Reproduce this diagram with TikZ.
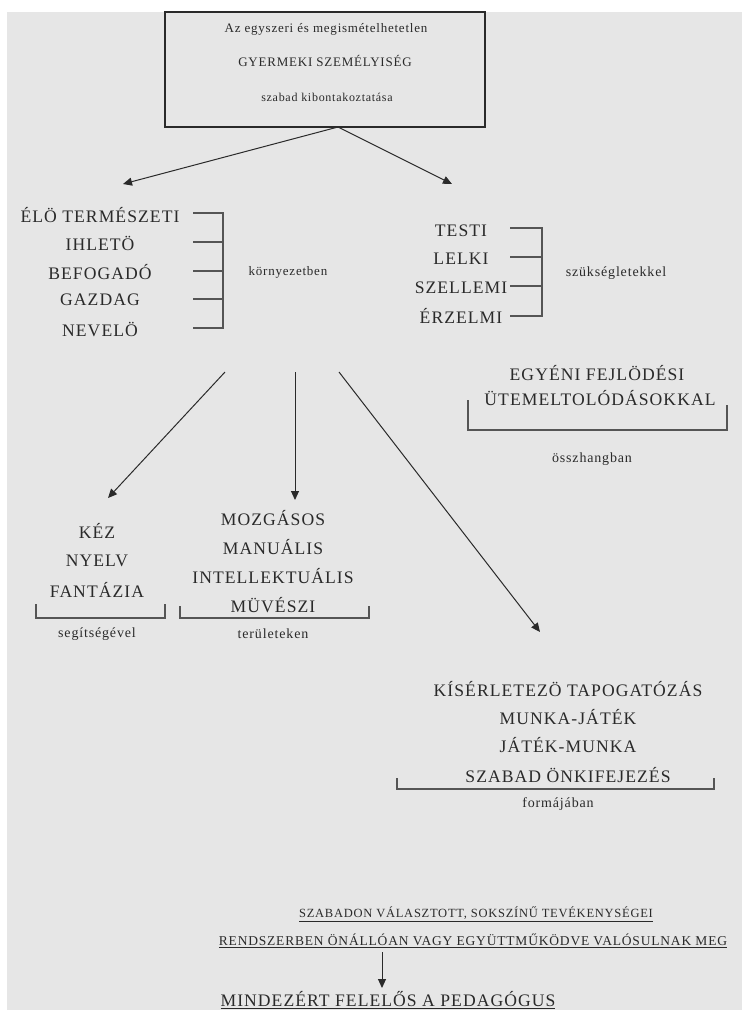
\documentclass[tikz,border=0pt]{standalone}
\usepackage{fontspec}
\setmainfont{Liberation Serif}[LetterSpace=6]
\usetikzlibrary{arrows.meta}
\definecolor{bg}{HTML}{E6E6E6}
\definecolor{ink}{HTML}{2A2A2A}
\definecolor{brk}{HTML}{555555}
\tikzset{
  lab/.style={inner sep=0pt, text=ink, font=\fontsize{17.6}{19}\selectfont},
  toptxt/.style={inner sep=0pt, text=ink, font=\fontsize{13}{15}\selectfont},
  bot/.style={inner sep=0pt, text=ink, font=\fontsize{13.5}{15}\selectfont},
  small/.style={inner sep=0pt, text=ink, font=\fontsize{14}{16}\selectfont},
  arr/.style={draw=ink, line width=1pt, -{Triangle[length=9pt,width=8pt]}},
  brace/.style={draw=brk, line width=1.3pt},
}
\begin{document}
\begin{tikzpicture}[x=1pt,y=-1pt]
\useasboundingbox (0,0) rectangle (748,1015);
\fill[white] (0,0) rectangle (748,1015);
\fill[bg] (7,12) rectangle (742,1010);
% top box
\node[draw=ink, line width=1.2pt, minimum width=320pt, minimum height=115pt, inner sep=0pt] (top) at (325,69.5) {};
\node[toptxt] (t1) at (326,29) {Az egyszeri és megismételhetetlen};
\node[toptxt] (t2) at (325,61) {GYERMEKI SZEMÉLYISÉG};
\node[toptxt, font=\fontsize{12}{14}\selectfont] (t3) at (327,97) {szabad kibontakoztatása};
\coordinate (o) at (338,127);
\coordinate (a1) at (123,184);
\coordinate (a2) at (452,184);
\draw[arr] (o) -- (a1);
\draw[arr] (o) -- (a2);
% left list
\node[lab] (l1) at (100,215) {ÉLÖ TERMÉSZETI};
\node[lab] (l2) at (100,243) {IHLETÖ};
\node[lab] (l3) at (100,272) {BEFOGADÓ};
\node[lab] (l4) at (100,300) {GAZDAG};
\node[lab] (l5) at (100,329) {NEVELÖ};
\coordinate (lb1) at (223,213);
\coordinate (lb5) at (223,328);
\draw[brace] (193,213) -- (lb1) -- (lb5) -- (193,328);
\draw[brace] (193,242) -- (223,242);
\draw[brace] (193,271) -- (223,271);
\draw[brace] (193,299) -- (223,299);
\node[small, font=\fontsize{13}{15}\selectfont] (kor) at (288,272) {környezetben};
% right list
\node[lab] (r1) at (461,231) {TESTI};
\node[lab] (r2) at (461,259) {LELKI};
\node[lab] (r3) at (461,288) {SZELLEMI};
\node[lab] (r4) at (461,316) {ÉRZELMI};
\draw[brace] (510,228) -- (542,228) -- (542,316) -- (510,316);
\draw[brace] (510,257) -- (542,257);
\draw[brace] (510,286) -- (542,286);
\node[small] (szuk) at (616,273) {szükségletekkel};
% egyeni
\node[lab] (e1) at (597,373) {EGYÉNI FEJLÖDÉSI};
\node[lab] (e2) at (600,398) {ÜTEMELTOLÓDÁSOKKAL};
\draw[brace] (468,400) -- (468,430) -- (727,430) -- (727,405);
\node[small] (ossz) at (592,459) {összhangban};
% three arrows
\coordinate (s1) at (225,372); \coordinate (e1a) at (108,498);
\coordinate (s2) at (295,372); \coordinate (e2a) at (295,500);
\coordinate (s3) at (339,372); \coordinate (e3a) at (540,632);
\draw[arr] (s1) -- (e1a);
\draw[arr] (s2) -- (e2a);
\draw[arr] (s3) -- (e3a);
% kez
\node[lab] (k1) at (97,531) {KÉZ};
\node[lab] (k2) at (97,561) {NYELV};
\node[lab] (k3) at (97,590) {FANTÁZIA};
\draw[brace] (36,604) -- (36,618) -- (165,618) -- (165,604);
\node[small] (seg) at (97,634) {segítségével};
% mozgasos
\node[lab] (m1) at (273,518) {MOZGÁSOS};
\node[lab] (m2) at (273,547) {MANUÁLIS};
\node[lab] (m3) at (273,576) {INTELLEKTUÁLIS};
\node[lab] (m4) at (273,605) {MÜVÉSZI};
\draw[brace] (180,606) -- (180,618) -- (369,618) -- (369,606);
\node[small] (ter) at (273,634) {területeken};
% kiserletezo
\node[lab] (x1) at (568,689) {KÍSÉRLETEZÖ TAPOGATÓZÁS};
\node[lab] (x2) at (568,717) {MUNKA-JÁTÉK};
\node[lab] (x3) at (568,745) {JÁTÉK-MUNKA};
\node[lab] (x4) at (568,775) {SZABAD ÖNKIFEJEZÉS};
\draw[brace] (397,778) -- (397,789) -- (714,789) -- (714,778);
\node[small] (form) at (558,804) {formájában};
% bottom
\node[bot, font=\fontsize{12.5}{14}\selectfont] (b1) at (476,914) {\underline{SZABADON VÁLASZTOTT, SOKSZÍNŰ TEVÉKENYSÉGEI}};
\node[bot] (b2) at (473,941) {\underline{RENDSZERBEN ÖNÁLLÓAN VAGY EGYÜTTMŰKÖDVE VALÓSULNAK MEG}};
\node[lab] (b3) at (388,1000) {\underline{MINDEZÉRT FELELŐS A PEDAGÓGUS}};
\coordinate (bs) at (382,952);
\coordinate (be) at (382,988);
\draw[arr] (bs) -- (be);
\end{tikzpicture}
\end{document}
